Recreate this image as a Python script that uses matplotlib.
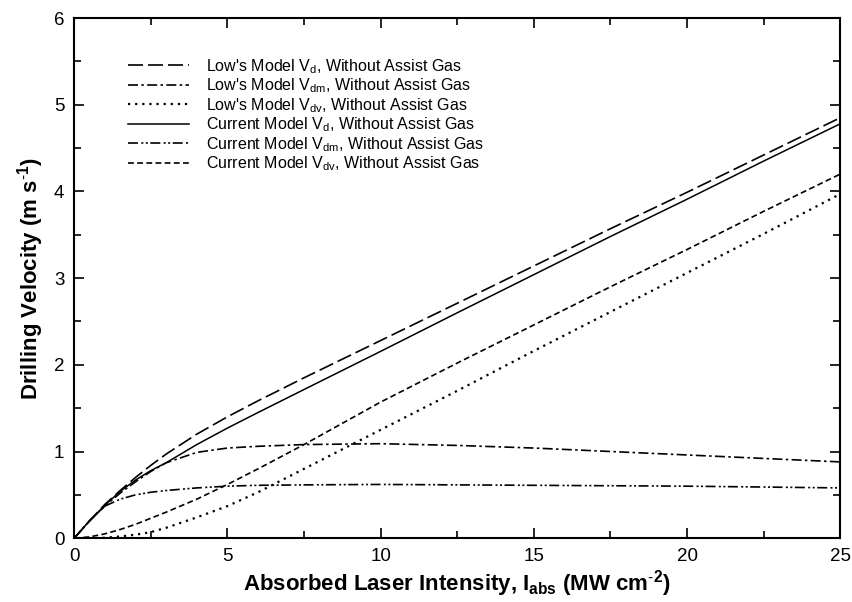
import matplotlib
matplotlib.use('Agg')
import matplotlib.pyplot as plt
from matplotlib.ticker import MultipleLocator

plt.rcParams['font.family'] = ['Liberation Sans', 'DejaVu Sans']
plt.rcParams['mathtext.fontset'] = 'custom'
plt.rcParams['mathtext.rm'] = 'Liberation Sans'
plt.rcParams['mathtext.bf'] = 'Liberation Sans:bold'

# absorbed laser intensity (MW cm^-2)
x = [0, 0.5, 1, 1.5, 2, 2.5, 3, 4, 5, 6, 7.5, 10, 12.5, 15, 17.5, 20, 22.5, 25]

# drilling velocities (m/s)
low_vd = [0, 0.2, 0.39, 0.55, 0.7, 0.84, 0.97, 1.2, 1.4, 1.585, 1.85, 2.28, 2.71, 3.14, 3.57, 3.99, 4.42, 4.85]
low_vdm = [0, 0.2, 0.37, 0.52, 0.65, 0.77, 0.87, 0.99, 1.04, 1.06, 1.08, 1.09, 1.07, 1.04, 1.0, 0.96, 0.92, 0.88]
low_vdv = [0, 0, 0.005, 0.02, 0.04, 0.07, 0.12, 0.24, 0.37, 0.53, 0.8, 1.25, 1.7, 2.16, 2.61, 3.06, 3.51, 3.97]
cur_vd = [0, 0.2, 0.38, 0.54, 0.67, 0.78, 0.87, 1.08, 1.27, 1.45, 1.715, 2.155, 2.6, 3.04, 3.48, 3.91, 4.35, 4.78]
cur_vdm = [0, 0.2, 0.37, 0.45, 0.5, 0.53, 0.55, 0.58, 0.6, 0.61, 0.615, 0.62, 0.615, 0.61, 0.605, 0.6, 0.59, 0.58]
cur_vdv = [0, 0.015, 0.05, 0.1, 0.16, 0.23, 0.3, 0.45, 0.62, 0.8, 1.08, 1.57, 2.02, 2.46, 2.9, 3.33, 3.77, 4.2]

fig = plt.figure(figsize=(8.53, 6.02), dpi=100)
ax = fig.add_axes([0.087, 0.106, 0.898, 0.864])

ax.plot(x, low_vd, color='k', lw=1.2, ls=(0, (9, 3)),
        label="Low's Model V$_\\mathregular{d}$, Without Assist Gas")
ax.plot(x, low_vdm, color='k', lw=1.2, ls=(0, (6, 2, 1.5, 2)),
        label="Low's Model V$_\\mathregular{dm}$, Without Assist Gas")
ax.plot(x, low_vdv, color='k', lw=1.6, ls=(0, (1, 2.2)),
        label="Low's Model V$_\\mathregular{dv}$, Without Assist Gas")
ax.plot(x, cur_vd, color='k', lw=1.1, ls='-',
        label="Current Model V$_\\mathregular{d}$, Without Assist Gas")
ax.plot(x, cur_vdm, color='k', lw=1.2, ls=(0, (6, 2, 1.2, 1.5, 1.2, 1.5)),
        label="Current Model V$_\\mathregular{dm}$, Without Assist Gas")
ax.plot(x, cur_vdv, color='k', lw=1.2, ls=(0, (3.5, 2)),
        label="Current Model V$_\\mathregular{dv}$, Without Assist Gas")

ax.set_xlim(0, 25)
ax.set_ylim(0, 6)
ax.xaxis.set_major_locator(MultipleLocator(5))
ax.xaxis.set_minor_locator(MultipleLocator(2.5))
ax.yaxis.set_major_locator(MultipleLocator(1))
ax.yaxis.set_minor_locator(MultipleLocator(0.5))
ax.tick_params(which='both', direction='in', top=True, right=True, width=1.2, labelsize=13.5, pad=7)
ax.tick_params(which='major', length=7)
ax.tick_params(which='minor', length=5)
for s in ax.spines.values():
    s.set_linewidth(1.5)

ax.set_xlabel("Absorbed Laser Intensity, I$_\\mathregular{abs}$ (MW cm$^\\mathregular{\\text{-}2}$)",
              fontsize=16, fontweight='bold', labelpad=2)
ax.set_ylabel("Drilling Velocity (m s$^\\mathregular{\\text{-}1}$)", fontsize=16, fontweight='bold', labelpad=6)

ax.legend(loc='upper left', bbox_to_anchor=(0.07, 0.925), frameon=False, fontsize=11.5,
          handlelength=3.8, handletextpad=1.1, labelspacing=0.05, borderpad=0, borderaxespad=0)

fig.savefig('out.png', dpi=100)
